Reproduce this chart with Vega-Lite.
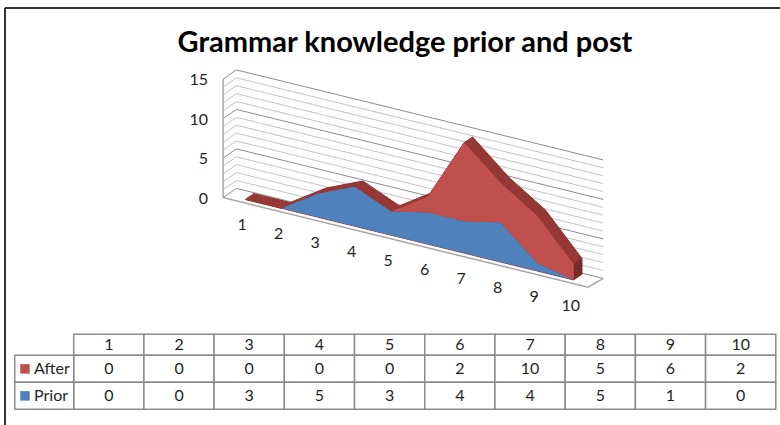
{"$schema":"https://vega.github.io/schema/vega-lite/v6.json","padding":0,"spacing":0,"bounds":"flush","background":"white","config":{"view":{"stroke":null},"font":"Lato"},"resolve":{"scale":{"color":"independent"}},
"datasets":{"scores":[{"k":1,"After":0,"Prior":0},{"k":2,"After":0,"Prior":0},{"k":3,"After":0,"Prior":3},{"k":4,"After":0,"Prior":5},{"k":5,"After":0,"Prior":3},{"k":6,"After":2,"Prior":4},{"k":7,"After":10,"Prior":4},{"k":8,"After":5,"Prior":5},{"k":9,"After":6,"Prior":1},{"k":10,"After":2,"Prior":0}],
"levels":[{"level":0},{"level":1},{"level":2},{"level":3},{"level":4},{"level":5},{"level":6},{"level":7},{"level":8},{"level":9},{"level":10},{"level":11},{"level":12},{"level":13},{"level":14},{"level":15}],
"series":[{"series":"After","r0":0.78},{"series":"Prior","r0":1.78}],"frame":[{"part":"frame"}]},
"vconcat":[
{"width":780,"height":320,
"title":{"text":"Grammar knowledge prior and post","fontSize":29,"fontWeight":"bold","font":"Lato","color":"#000000","anchor":"middle","frame":"group","offset":-58,"dx":15},
"layer":[
{"data":{"name":"frame"},"mark":{"type":"rule","color":"#333333","strokeWidth":2},"encoding":{"y":{"datum":24.228,"type":"quantitative","scale":{"domain":[-15.266,25.241],"nice":false,"zero":false},"axis":null},"x":{"datum":-5.581,"type":"quantitative","scale":{"domain":[-5.718,15.652],"nice":false,"zero":false},"axis":null},"x2":{"datum":15.652}}},
{"data":{"name":"frame"},"mark":{"type":"rule","color":"#333333","strokeWidth":2},"encoding":{"x":{"datum":-5.581,"type":"quantitative","scale":{"domain":[-5.718,15.652],"nice":false,"zero":false},"axis":null},"y":{"datum":24.228,"type":"quantitative","scale":{"domain":[-15.266,25.241],"nice":false,"zero":false},"axis":null},"y2":{"datum":-15.7}}},
{"data":{"name":"levels"},"transform":[{"calculate":"[0.5,0.5,10.55]","as":"kk"},{"calculate":"[-0.47,1.14,1.14]","as":"d"},{"flatten":["kk","d"]},{"calculate":"datum.kk+0.2274*datum.d","as":"X"},{"calculate":"datum.level-1.1334*(datum.kk-1)+0.7215*datum.d","as":"Y"},{"calculate":"datum.level%5==0?'major':'minor'","as":"weight"}],
"mark":{"type":"line","strokeWidth":1,"interpolate":"linear"},"encoding":{"x":{"field":"X","type":"quantitative","scale":{"domain":[-5.718,15.652],"nice":false,"zero":false},"axis":null},"y":{"field":"Y","type":"quantitative","scale":{"domain":[-15.266,25.241],"nice":false,"zero":false},"axis":null},"detail":{"field":"level"},"color":{"field":"weight","type":"nominal","scale":{"domain":["major","minor"],"range":["#8c8c8c","#c4c4c4"]},"legend":null}}},
{"data":{"values":[{"kk":0.5,"d":-0.47,"v":0},{"kk":10.5,"d":-0.47,"v":0},{"kk":10.55,"d":1.14,"v":0}]},"transform":[{"calculate":"datum.kk+0.2274*datum.d","as":"X"},{"calculate":"datum.v-1.1334*(datum.kk-1)+0.7215*datum.d","as":"Y"}],
"mark":{"type":"line","color":"#a6a6a6","strokeWidth":1.5},"encoding":{"x":{"field":"X","type":"quantitative","scale":{"domain":[-5.718,15.652],"nice":false,"zero":false},"axis":null},"y":{"field":"Y","type":"quantitative","scale":{"domain":[-15.266,25.241],"nice":false,"zero":false},"axis":null}}},
{"data":{"values":[{"kk":0.5,"v":0},{"kk":0.5,"v":15}]},"transform":[{"calculate":"datum.kk+0.2274*-0.47","as":"X"},{"calculate":"datum.v-1.1334*(datum.kk-1)+0.7215*-0.47","as":"Y"}],
"mark":{"type":"rule","color":"#a6a6a6","strokeWidth":1.5},"encoding":{"x":{"aggregate":"min","field":"X","type":"quantitative","scale":{"domain":[-5.718,15.652],"nice":false,"zero":false},"axis":null},"y":{"aggregate":"min","field":"Y","type":"quantitative","scale":{"domain":[-15.266,25.241],"nice":false,"zero":false},"axis":null},"y2":{"aggregate":"max","field":"Y"}}},
{"data":{"name":"scores"},"transform":[{"calculate":"[0,0.1,0.2,0.3,0.4,0.5,0.6,0.7,0.8,0.9,1]","as":"d"},{"flatten":["d"]},{"calculate":"datum.k+0.2274*datum.d","as":"X"},{"calculate":"datum.Prior+datum.After-1.1334*(datum.k-1)+0.7215*datum.d","as":"Y"},{"calculate":"-1.1334*(datum.k-1)+0.7215*datum.d","as":"Y0"}],
"mark":{"type":"area","orient":"vertical","color":"#953735","stroke":"#953735","strokeWidth":1},"encoding":{"x":{"field":"X","type":"quantitative","scale":{"domain":[-5.718,15.652],"nice":false,"zero":false},"axis":null},"y":{"field":"Y","type":"quantitative","scale":{"domain":[-15.266,25.241],"nice":false,"zero":false},"axis":null},"y2":{"field":"Y0"},"detail":{"field":"d"}}},
{"data":{"name":"scores"},"transform":[{"filter":"datum.k==10"},{"calculate":"[0,1]","as":"d"},{"flatten":["d"]},{"calculate":"datum.k+0.2274*datum.d","as":"X"},{"calculate":"datum.Prior+datum.After-1.1334*(datum.k-1)+0.7215*datum.d","as":"Y"},{"calculate":"-1.1334*(datum.k-1)+0.7215*datum.d","as":"Y0"}],
"mark":{"type":"area","orient":"vertical","color":"#772c2a"},"encoding":{"x":{"field":"X","type":"quantitative","scale":{"domain":[-5.718,15.652],"nice":false,"zero":false},"axis":null},"y":{"field":"Y","type":"quantitative","scale":{"domain":[-15.266,25.241],"nice":false,"zero":false},"axis":null},"y2":{"field":"Y0"}}},
{"data":{"name":"scores"},"transform":[{"calculate":"datum.Prior+datum.After-1.1334*(datum.k-1)","as":"Y"},{"calculate":"datum.Prior-1.1334*(datum.k-1)","as":"Y0"}],
"mark":{"type":"area","orient":"vertical","color":"#C0504D"},"encoding":{"x":{"field":"k","type":"quantitative","scale":{"domain":[-5.718,15.652],"nice":false,"zero":false},"axis":null},"y":{"field":"Y","type":"quantitative","scale":{"domain":[-15.266,25.241],"nice":false,"zero":false},"axis":null},"y2":{"field":"Y0"}}},
{"data":{"name":"scores"},"transform":[{"calculate":"datum.Prior-1.1334*(datum.k-1)","as":"Y"},{"calculate":"-1.1334*(datum.k-1)","as":"Y0"}],
"mark":{"type":"area","orient":"vertical","color":"#4F81BD"},"encoding":{"x":{"field":"k","type":"quantitative","scale":{"domain":[-5.718,15.652],"nice":false,"zero":false},"axis":null},"y":{"field":"Y","type":"quantitative","scale":{"domain":[-15.266,25.241],"nice":false,"zero":false},"axis":null},"y2":{"field":"Y0"}}},
{"data":{"name":"levels"},"transform":[{"filter":"datum.level%5==0"},{"calculate":"0.5+0.2274*-0.47","as":"X"},{"calculate":"datum.level-1.1334*(0.5-1)+0.7215*-0.47","as":"Y"}],
"mark":{"type":"text","align":"right","baseline":"middle","dx":-15,"dy":1,"fontSize":16,"color":"#1f1f1f"},"encoding":{"x":{"field":"X","type":"quantitative","scale":{"domain":[-5.718,15.652],"nice":false,"zero":false},"axis":null},"y":{"field":"Y","type":"quantitative","scale":{"domain":[-15.266,25.241],"nice":false,"zero":false},"axis":null},"text":{"field":"level"}}},
{"data":{"name":"scores"},"transform":[{"calculate":"-1.1334*(datum.k-1)","as":"Y"}],
"mark":{"type":"text","align":"center","baseline":"middle","dx":-3,"dy":26,"fontSize":16,"color":"#1f1f1f"},"encoding":{"x":{"field":"k","type":"quantitative","scale":{"domain":[-5.718,15.652],"nice":false,"zero":false},"axis":null},"y":{"field":"Y","type":"quantitative","scale":{"domain":[-15.266,25.241],"nice":false,"zero":false},"axis":null},"text":{"field":"k"}}}
]},
{"width":780,"height":105,
"layer":[
{"data":{"name":"frame"},"mark":{"type":"rule","color":"#333333","strokeWidth":2},"encoding":{"x":{"datum":-0.979,"type":"quantitative","scale":{"domain":[-1.05,10.06],"nice":false,"zero":false},"axis":null},"y":{"datum":-0.53,"type":"quantitative","scale":{"domain":[-0.53,3.359],"reverse":true,"nice":false,"zero":false},"axis":null},"y2":{"datum":3.359}}},
{"data":{"name":"scores"},"transform":[{"calculate":"datum.k-1","as":"c0"},{"calculate":"0","as":"r0"},{"calculate":"0.78","as":"r1"}],
"mark":{"type":"rect","fill":"white","stroke":"#8c8c8c","strokeWidth":1.5},"encoding":{"x":{"field":"c0","type":"quantitative","scale":{"domain":[-1.05,10.06],"nice":false,"zero":false},"axis":null},"x2":{"field":"k"},"y":{"field":"r0","type":"quantitative","scale":{"domain":[-0.53,3.359],"reverse":true,"nice":false,"zero":false},"axis":null},"y2":{"field":"r1"}}},
{"data":{"name":"scores"},"transform":[{"fold":["After","Prior"],"as":["series","val"]},{"calculate":"datum.k-1","as":"c0"},{"calculate":"datum.series=='After'?0.78:1.78","as":"r0"},{"calculate":"datum.r0+1","as":"r1"}],
"mark":{"type":"rect","fill":"white","stroke":"#8c8c8c","strokeWidth":1.5},"encoding":{"x":{"field":"c0","type":"quantitative","scale":{"domain":[-1.05,10.06],"nice":false,"zero":false},"axis":null},"x2":{"field":"k"},"y":{"field":"r0","type":"quantitative","scale":{"domain":[-0.53,3.359],"reverse":true,"nice":false,"zero":false},"axis":null},"y2":{"field":"r1"}}},
{"data":{"name":"series"},"transform":[{"calculate":"datum.r0+1","as":"r1"}],
"mark":{"type":"rect","fill":"white","stroke":"#8c8c8c","strokeWidth":1.5},"encoding":{"x":{"datum":-0.84,"type":"quantitative","scale":{"domain":[-1.05,10.06],"nice":false,"zero":false},"axis":null},"x2":{"datum":0},"y":{"field":"r0","type":"quantitative","scale":{"domain":[-0.53,3.359],"reverse":true,"nice":false,"zero":false},"axis":null},"y2":{"field":"r1"}}},
{"data":{"name":"series"},"transform":[{"calculate":"datum.r0+0.5","as":"rc"}],
"mark":{"type":"point","shape":"square","filled":true,"size":90,"opacity":1},"encoding":{"x":{"datum":-0.694,"type":"quantitative","scale":{"domain":[-1.05,10.06],"nice":false,"zero":false},"axis":null},"y":{"field":"rc","type":"quantitative","scale":{"domain":[-0.53,3.359],"reverse":true,"nice":false,"zero":false},"axis":null},"color":{"field":"series","type":"nominal","scale":{"domain":["After","Prior"],"range":["#C0504D","#4F81BD"]},"legend":null}}},
{"data":{"name":"series"},"transform":[{"calculate":"datum.r0+0.5","as":"rc"}],
"mark":{"type":"text","align":"left","baseline":"middle","fontSize":16,"color":"#1f1f1f"},"encoding":{"x":{"datum":-0.565,"type":"quantitative","scale":{"domain":[-1.05,10.06],"nice":false,"zero":false},"axis":null},"y":{"field":"rc","type":"quantitative","scale":{"domain":[-0.53,3.359],"reverse":true,"nice":false,"zero":false},"axis":null},"text":{"field":"series"}}},
{"data":{"name":"scores"},"transform":[{"calculate":"datum.k-0.5","as":"cc"},{"calculate":"0.39","as":"rc"}],
"mark":{"type":"text","align":"center","baseline":"middle","fontSize":16,"color":"#1f1f1f"},"encoding":{"x":{"field":"cc","type":"quantitative","scale":{"domain":[-1.05,10.06],"nice":false,"zero":false},"axis":null},"y":{"field":"rc","type":"quantitative","scale":{"domain":[-0.53,3.359],"reverse":true,"nice":false,"zero":false},"axis":null},"text":{"field":"k"}}},
{"data":{"name":"scores"},"transform":[{"fold":["After","Prior"],"as":["series","val"]},{"calculate":"datum.k-0.5","as":"cc"},{"calculate":"datum.series=='After'?1.28:2.28","as":"rc"}],
"mark":{"type":"text","align":"center","baseline":"middle","fontSize":16,"color":"#1f1f1f"},"encoding":{"x":{"field":"cc","type":"quantitative","scale":{"domain":[-1.05,10.06],"nice":false,"zero":false},"axis":null},"y":{"field":"rc","type":"quantitative","scale":{"domain":[-0.53,3.359],"reverse":true,"nice":false,"zero":false},"axis":null},"text":{"field":"val","type":"quantitative"}}}
]}
]}
